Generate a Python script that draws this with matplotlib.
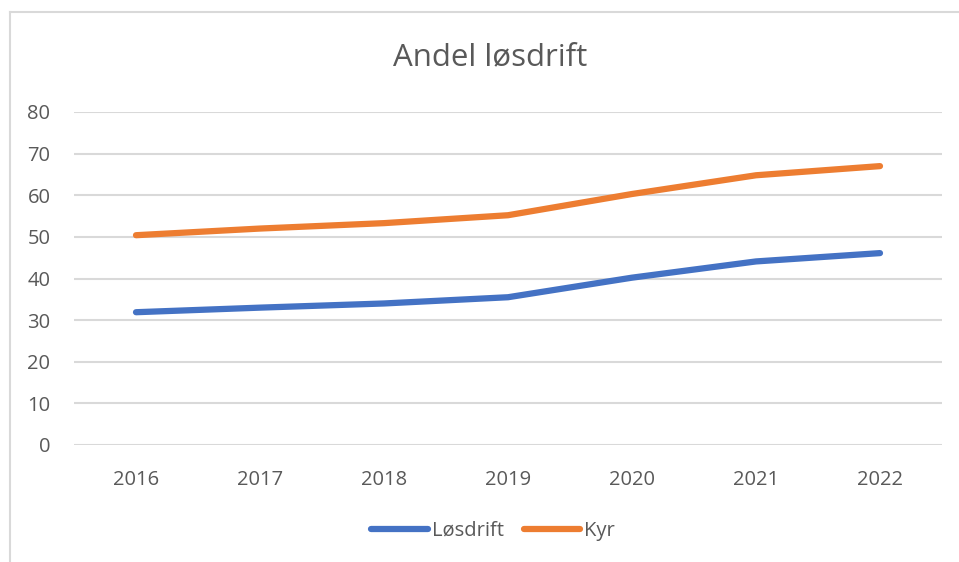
import matplotlib
matplotlib.use("Agg")
import matplotlib.pyplot as plt
from matplotlib.lines import Line2D

years = ["2016", "2017", "2018", "2019", "2020", "2021", "2022"]
losdrift = [31.9, 33.0, 34.0, 35.5, 40.2, 44.1, 46.1]
kyr = [50.4, 52.0, 53.3, 55.2, 60.3, 64.8, 67.0]
yticks = [0, 10, 20, 30, 40, 50, 60, 70, 80]

plt.rcParams['font.family'] = ['Open Sans', 'DejaVu Sans']
txt = '#595959'
W, H = 959, 562
fig = plt.figure(figsize=(W / 100, H / 100), dpi=100)

# chart border (top and left visible)
fig.add_artist(Line2D([10 / W, 10 / W], [0, 1 - 12 / H], color='#d9d9d9', lw=1.5))
fig.add_artist(Line2D([10 / W, 1], [1 - 12 / H, 1 - 12 / H], color='#d9d9d9', lw=1.5))

ax = fig.add_axes([74 / W, 117 / H, (942 - 74) / W, (445 - 112) / H])
x = range(len(years))
ax.plot(x, losdrift, color='#4472C4', lw=4.5, solid_capstyle='round', solid_joinstyle='round', label='Løsdrift')
ax.plot(x, kyr, color='#ED7D31', lw=4.5, solid_capstyle='round', solid_joinstyle='round', label='Kyr')
ax.set_xlim(-0.5, len(years) - 0.5)
ax.set_ylim(0, 80)
ax.set_yticks(yticks)
ax.set_xticks(list(x))
ax.set_xticklabels(years)
for s in ax.spines.values():
    s.set_visible(False)
ax.grid(axis='y', color='#d9d9d9', lw=1.5)
ax.set_axisbelow(True)
ax.tick_params(axis='both', length=0, labelsize=14.5, colors=txt)
ax.tick_params(axis='y', pad=17)
ax.tick_params(axis='x', pad=18)

fig.text(490 / W, 1 - 57 / H, 'Andel løsdrift', ha='center', va='center', fontsize=22.5, color=txt)

leg = fig.legend(loc='center', bbox_to_anchor=(493 / W, 1 - 531 / H), ncol=2, frameon=False,
                 fontsize=14.5, handlelength=2.8, handletextpad=0.2, columnspacing=1.0)
for t in leg.get_texts():
    t.set_color(txt)

fig.savefig('out.png', dpi=100)
